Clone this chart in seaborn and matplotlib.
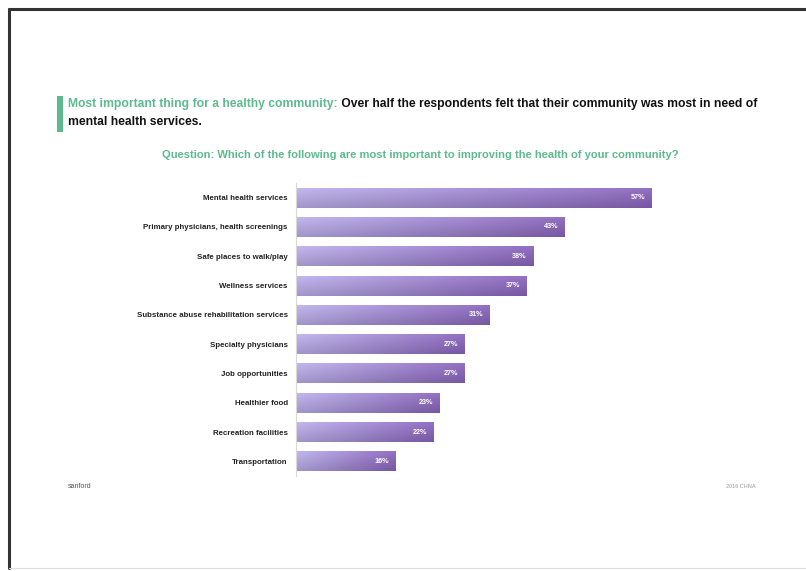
import numpy as np
import pandas as pd
import matplotlib
matplotlib.use("Agg")
import matplotlib.pyplot as plt
from matplotlib.lines import Line2D
from matplotlib.patches import Rectangle
from matplotlib.colors import to_rgb
import seaborn as sns

# Survey results
categories = [
    "Mental health services",
    "Primary physicians, health screenings",
    "Safe places to walk/play",
    "Wellness services",
    "Substance abuse rehabilitation services",
    "Specialty physicians",
    "Job opportunities",
    "Healthier food",
    "Recreation facilities",
    "Transportation",
]
percent = [57, 43, 38, 37, 31, 27, 27, 23, 22, 16]
value_labels = [f"{v}%" for v in percent]

headline_lead = "Most important thing for a healthy community:"
headline_rest = " Over half the respondents felt that their community was most in need of"
headline_line2 = "mental health services."
question = "Question: Which of the following are most important to improving the health of your community?"

GREEN = "#5cba8e"
LIGHT = "#b3a8df"
DARK = "#8461b4"

sns.set_theme(style="white")
plt.rcParams["font.family"] = ["Liberation Sans", "DejaVu Sans"]

df = pd.DataFrame({"category": categories, "percent": percent})

fig = plt.figure(figsize=(8.06, 5.71), dpi=100)
fig.patch.set_facecolor("white")
ax = fig.add_axes([296 / 806, 1 - 476 / 571, 468 / 806, 293 / 571])

sns.barplot(data=df, x="percent", y="category", orient="h", color=DARK,
            width=0.68, ax=ax, saturation=1)
ax.set_xlim(0, 75)
ax.set_xlabel("")
ax.set_ylabel("")
ax.set_xticks([])
for s in ["top", "right", "bottom"]:
    ax.spines[s].set_visible(False)
ax.spines["left"].set_color("#d8d8d8")
ax.spines["left"].set_linewidth(0.8)
ax.tick_params(axis="y", length=0, pad=6, labelsize=5.7, labelcolor="#222222")
for t in ax.get_yticklabels():
    t.set_fontweight("bold")

# Lavender-to-purple gradient fill for each bar
c0 = np.array(to_rgb(LIGHT))
c1 = np.array(to_rgb(DARK))
h = np.linspace(0, 1, 200)[None, :, None]
v = np.linspace(0, 1, 20)[:, None, None]
grad = c0 + (c1 - c0) * h
grad = grad * (1.0 - 0.10 * v) + 0.06 * (1 - v)
grad = np.clip(grad, 0, 1)
for p in ax.patches:
    x0, y0 = p.get_x(), p.get_y()
    w, hh = p.get_width(), p.get_height()
    im = ax.imshow(grad, extent=[x0, x0 + w, y0 + hh, y0], aspect="auto",
                   interpolation="bilinear", zorder=p.get_zorder() + 0.1)
    im.set_clip_path(p)
ax.set_xlim(0, 75)
ax.set_ylim(9.5, -0.5)

for i, (v_, lab) in enumerate(zip(percent, value_labels)):
    ax.text(v_ - 1.0, i, lab, ha="right", va="center", color="white",
            fontsize=5.2, fontweight="bold", zorder=5)

# Headline with accent bar
fig.add_artist(Rectangle((57 / 806, 1 - 132 / 571), 6 / 806, 36 / 571,
                         transform=fig.transFigure, color=GREEN, lw=0))
t1 = fig.text(68 / 806, 1 - 104 / 571, headline_lead, color=GREEN,
              fontsize=8.75, fontweight="bold", va="center", ha="left")
fig.canvas.draw()
bb = t1.get_window_extent()
fig.text(bb.x1 / fig.bbox.width, 1 - 104 / 571, headline_rest, color="#111111",
         fontsize=8.75, fontweight="bold", va="center", ha="left")
fig.text(68 / 806, 1 - 122 / 571, headline_line2, color="#111111",
         fontsize=8.75, fontweight="bold", va="center", ha="left")
fig.text(420 / 806, 1 - 155 / 571, question, color=GREEN,
         fontsize=8.0, fontweight="bold", va="center", ha="center")

# Footer
fig.text(68 / 806, 1 - 486 / 571, "sanford", color="#555555",
         fontsize=5, va="center", ha="left")
fig.text(755 / 806, 1 - 487 / 571, "2016 CHNA", color="#999999",
         fontsize=4, va="center", ha="right")

# Slide frame
fig.add_artist(Line2D([9 / 806, 9 / 806], [1 - 9 / 571, 1 - 568 / 571],
                      transform=fig.transFigure, color="#333333", lw=2.2))
fig.add_artist(Line2D([9 / 806, 1.0], [1 - 9 / 571, 1 - 9 / 571],
                      transform=fig.transFigure, color="#333333", lw=2.2))
fig.add_artist(Line2D([9 / 806, 1.0], [1 - 568 / 571, 1 - 568 / 571],
                      transform=fig.transFigure, color="#dddddd", lw=0.8))

fig.savefig("out.png", dpi=100, facecolor="white")
